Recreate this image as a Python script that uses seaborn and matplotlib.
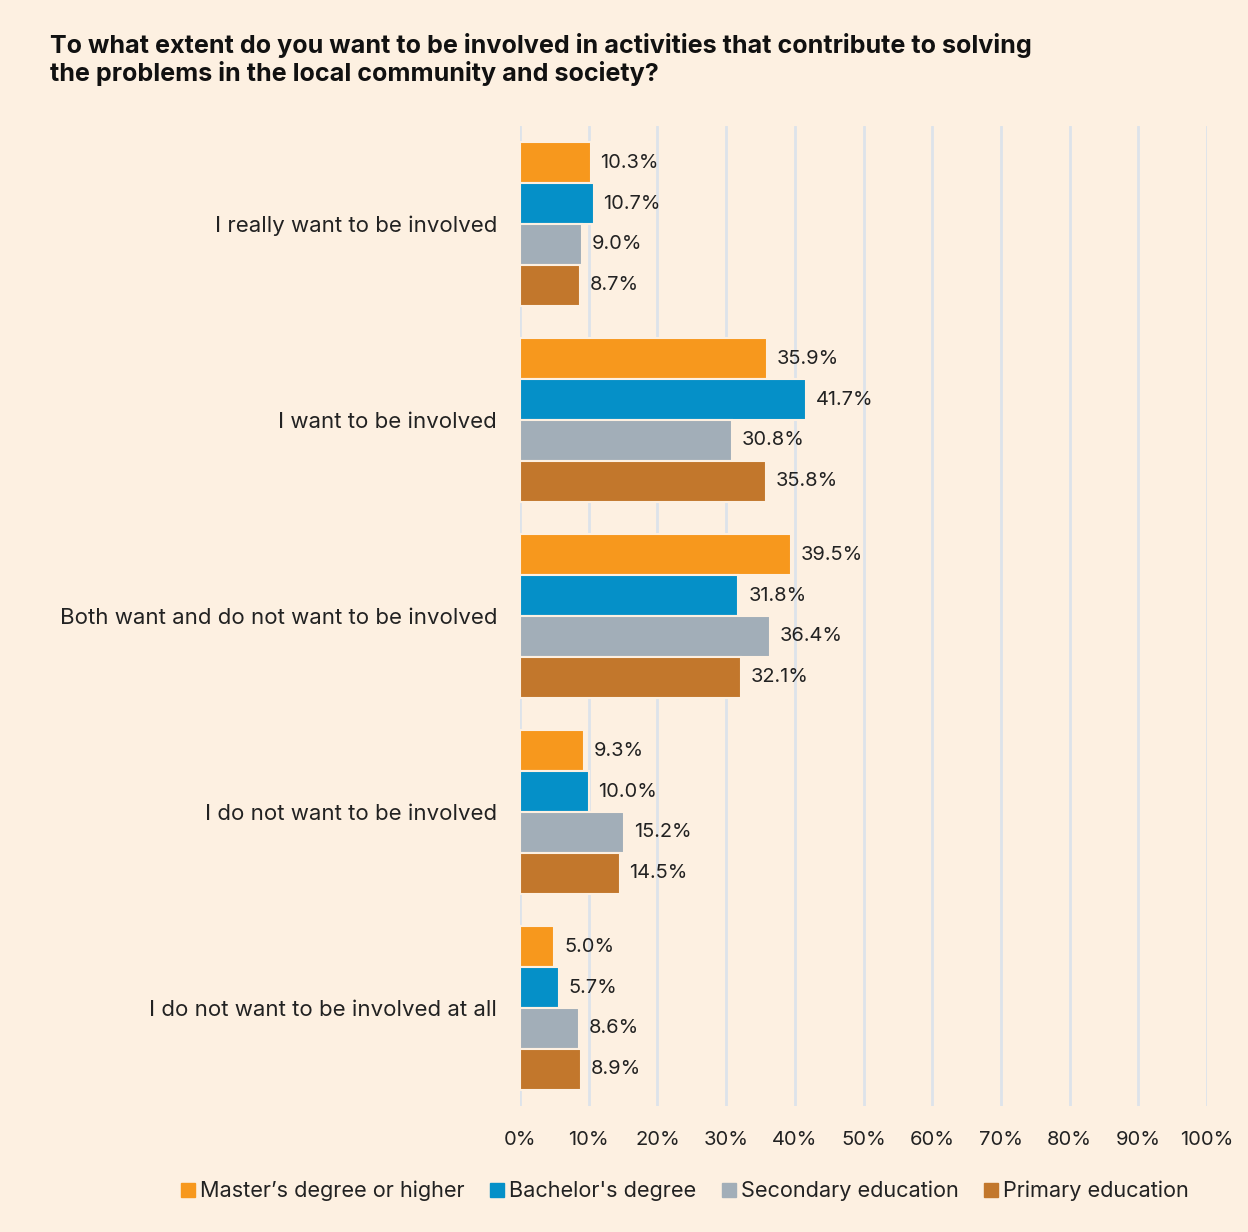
import matplotlib
matplotlib.use("Agg")
import matplotlib.pyplot as plt
from matplotlib.lines import Line2D
import seaborn as sns
import pandas as pd

categories = [
    "I really want to be involved",
    "I want to be involved",
    "Both want and do not want to be involved",
    "I do not want to be involved",
    "I do not want to be involved at all",
]
groups = ["Master\u2019s degree or higher", "Bachelor's degree", "Secondary education", "Primary education"]
masters = [10.3, 35.9, 39.5, 9.3, 5.0]
bachelors = [10.7, 41.7, 31.8, 10.0, 5.7]
secondary = [9.0, 30.8, 36.4, 15.2, 8.6]
primary = [8.7, 35.8, 32.1, 14.5, 8.9]
xticks = [0, 10, 20, 30, 40, 50, 60, 70, 80, 90, 100]
title = ("To what extent do you want to be involved in activities that contribute to solving\n"
         "the problems in the local community and society?")

colors = ["#F7981D", "#0590C8", "#A2AEB8", "#C2772C"]
bg = "#FDF0E1"
text_color = "#222222"

rows = []
for g, vals in zip(groups, [masters, bachelors, secondary, primary]):
    for c, v in zip(categories, vals):
        rows.append({"category": c, "group": g, "value": v})
df = pd.DataFrame(rows)

sns.set_theme(style="white")
plt.rcParams["font.family"] = ["Inter", "DejaVu Sans"]

fig = plt.figure(figsize=(12.48, 12.32), dpi=100, facecolor=bg)
ax = fig.add_axes([520/1248, 1 - 1106/1232, 687/1248, 980/1232])
ax.set_facecolor(bg)

sns.barplot(data=df, y="category", x="value", hue="group", order=categories,
            hue_order=groups, palette=colors, saturation=1, orient="h", width=0.835,
            edgecolor=bg, linewidth=1.5, ax=ax, legend=False)

ax.set_xlim(0, 100)
ax.set_ylim(4.5, -0.5)
ax.set_xticks(xticks)
ax.set_xticklabels([f"{t}%" for t in xticks], fontsize=14.5, color=text_color)
ax.tick_params(axis="x", length=0, pad=18)
ax.tick_params(axis="y", length=0, pad=16.5, labelsize=16, labelcolor=text_color)
ax.set_xlabel("")
ax.set_ylabel("")
for s in ax.spines.values():
    s.set_visible(False)
ax.grid(axis="x", color="#DDE3EA", linewidth=2)
ax.set_axisbelow(True)

for cont in ax.containers:
    ax.bar_label(cont, labels=[f"{v:.1f}%" for v in cont.datavalues],
                 padding=7, fontsize=14.4, color=text_color)

fig.text(50/1248, 1 - 33/1232, title, fontsize=18.1, fontweight="bold",
         color="#111111", va="top", ha="left", linespacing=1.15)

handles = [Line2D([0], [0], marker="s", linestyle="", markersize=10,
                  markerfacecolor=c, markeredgecolor=c) for c in colors]
fig.legend(handles, groups, loc="center", bbox_to_anchor=(683/1248, 1 - 1191/1232),
           ncol=4, frameon=False, fontsize=15.6, handletextpad=0.05,
           columnspacing=1.0, handlelength=1.0, labelcolor=text_color)

fig.savefig("out.png", dpi=100, facecolor=bg)
